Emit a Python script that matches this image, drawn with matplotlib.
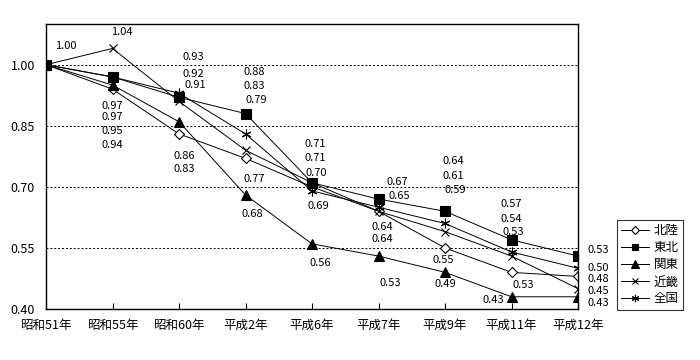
import matplotlib
matplotlib.use("Agg")
import matplotlib.pyplot as plt

plt.rcParams['font.family'] = ['Noto Sans CJK JP', 'DejaVu Sans']

categories = ['昭和51年', '昭和55年', '昭和60年', '平成2年', '平成6年',
              '平成7年', '平成9年', '平成11年', '平成12年']

hokuriku = [1.00, 0.94, 0.83, 0.77, 0.70, 0.64, 0.55, 0.49, 0.48]
tohoku = [1.00, 0.97, 0.92, 0.88, 0.71, 0.67, 0.64, 0.57, 0.53]
kanto = [1.00, 0.95, 0.86, 0.68, 0.56, 0.53, 0.49, 0.43, 0.43]
kinki = [1.00, 1.04, 0.91, 0.79, 0.71, 0.64, 0.59, 0.53, 0.45]
zenkoku = [1.00, 0.97, 0.93, 0.83, 0.69, 0.65, 0.61, 0.54, 0.50]

yticks = [0.40, 0.55, 0.70, 0.85, 1.00]

series = [
    ('北陸', hokuriku, dict(marker='D', markersize=5, markerfacecolor='white')),
    ('東北', tohoku, dict(marker='s', markersize=6.5, markerfacecolor='black')),
    ('関東', kanto, dict(marker='^', markersize=7, markerfacecolor='black')),
    ('近畿', kinki, dict(marker='x', markersize=6)),
    ('全国', zenkoku, dict(marker=(6, 2, 0), markersize=7)),
]

# data labels: (series data, category index, x shift, y position of text)
labels = [
    (kinki, 0, 0.30, 1.045),
    (kinki, 1, 0.14, 1.08),
    (tohoku, 1, 0.0, 0.898), (zenkoku, 1, 0.0, 0.871),
    (kanto, 1, 0.0, 0.837), (hokuriku, 1, 0.0, 0.803),
    (zenkoku, 2, 0.21, 1.02), (tohoku, 2, 0.21, 0.978), (kinki, 2, 0.24, 0.950),
    (kanto, 2, 0.08, 0.775), (hokuriku, 2, 0.08, 0.743),
    (tohoku, 3, 0.13, 0.983), (zenkoku, 3, 0.13, 0.948), (kinki, 3, 0.16, 0.914),
    (hokuriku, 3, 0.13, 0.719), (kanto, 3, 0.10, 0.633),
    (tohoku, 4, 0.05, 0.806), (kinki, 4, 0.05, 0.771), (hokuriku, 4, 0.06, 0.734),
    (zenkoku, 4, 0.09, 0.653), (kanto, 4, 0.12, 0.513),
    (tohoku, 5, 0.29, 0.712), (zenkoku, 5, 0.32, 0.678),
    (kinki, 5, 0.06, 0.602), (hokuriku, 5, 0.06, 0.573), (kanto, 5, 0.17, 0.463),
    (tohoku, 6, 0.13, 0.764), (zenkoku, 6, 0.13, 0.727), (kinki, 6, 0.16, 0.693),
    (hokuriku, 6, -0.03, 0.521), (kanto, 6, 0.0, 0.462),
    (tohoku, 7, 0.0, 0.657), (zenkoku, 7, 0.0, 0.622), (kinki, 7, 0.03, 0.590),
    (kinki, 7, 0.17, 0.459), (kanto, 7, -0.28, 0.422),
]

fig = plt.figure(figsize=(7, 3.6), dpi=100)
ax = fig.add_axes([46 / 700, 0.1417, 532 / 700, 0.7916])

for name, vals, style in series:
    ax.plot(range(len(categories)), vals, color='black', linewidth=0.7,
            markeredgecolor='black', markeredgewidth=0.8, label=name, **style)

for vals, i, dx, ty in labels:
    ax.text(i + dx, ty, f'{vals[i]:.2f}', fontsize=8, ha='center', va='center')

# right-hand column of labels at the last category
last = len(categories) - 1
for vals, ty in [(tohoku, 0.545), (zenkoku, 0.500), (hokuriku, 0.473),
                 (kinki, 0.444), (kanto, 0.415)]:
    ax.text(last + 0.30, ty, f'{vals[last]:.2f}', fontsize=8, ha='center', va='center')

ax.set_xlim(0, last)
ax.set_ylim(0.40, 1.10)
ax.set_yticks(yticks)
ax.set_yticklabels([f'{v:.2f}' for v in yticks], fontsize=9)
ax.set_xticks(range(len(categories)))
ax.set_xticklabels(categories, fontsize=9)
ax.tick_params(axis='y', length=0, pad=8)
ax.tick_params(axis='x', direction='in', length=4, pad=7)
for v in yticks[1:]:
    ax.axhline(v, color='black', linestyle=(0, (2, 2)), linewidth=0.7, zorder=0)
for s in ax.spines.values():
    s.set_linewidth(1.0)

leg = ax.legend(loc='upper left', bbox_to_anchor=(617 / 700, 1 - 220 / 360),
                bbox_transform=fig.transFigure, frameon=True, fancybox=False,
                edgecolor='black', fontsize=9, handlelength=2.2, markerscale=0.75,
                borderpad=0.35, labelspacing=0.32, handletextpad=0.4,
                borderaxespad=0)
leg.get_frame().set_linewidth(0.8)

fig.savefig('out.png', dpi=100)
